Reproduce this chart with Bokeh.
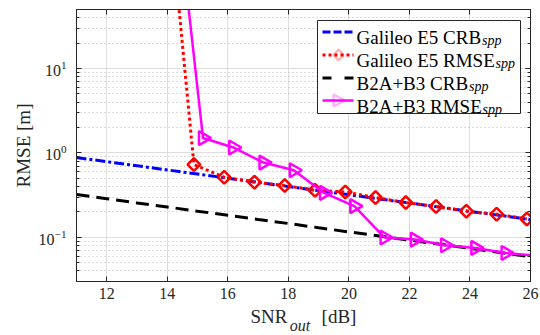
import math
from bokeh.plotting import figure
from bokeh.models import (Range1d, FixedTicker, LinearAxis, LogAxis, Label, CustomJSTickFormatter,
                          BoxAnnotation, PolyAnnotation, Arrow)
from bokeh.embed import file_html
from bokeh.resources import INLINE

# ---- data ----
snr_crb = [11, 12, 13, 14, 15, 16, 17, 18, 19, 20, 21, 22, 23, 24, 25, 26]
gal_crb = [0.882, 0.788, 0.704, 0.629, 0.562, 0.502, 0.448, 0.400, 0.358, 0.320,
           0.285, 0.255, 0.228, 0.203, 0.182, 0.162]
b2a_crb = [0.321, 0.287, 0.256, 0.229, 0.204, 0.183, 0.163, 0.146, 0.130, 0.116,
           0.104, 0.0928, 0.0829, 0.0741, 0.0662, 0.0591]

snr_gal = [13.88, 14.88, 15.88, 16.88, 17.88, 18.88, 19.88, 20.88, 21.88, 22.88, 23.88, 24.88, 25.88]
gal_rmse = [4000, 0.729, 0.515, 0.450, 0.411, 0.361, 0.345, 0.296, 0.258, 0.232, 0.204, 0.188, 0.165]

snr_b2a = [14.18, 15.18, 16.18, 17.18, 18.18, 19.18, 20.18, 21.18, 22.18, 23.18, 24.18, 25.18, 26.18]
b2a_rmse = [2500, 1.50, 1.16, 0.769, 0.624, 0.336, 0.234, 0.0995, 0.0942, 0.0806, 0.0749, 0.0653, 0.0606]

x_ticks = [12, 14, 16, 18, 20, 22, 24, 26]
y_ticks = [0.1, 1, 10]
y_minor = [0.03, 0.04, 0.05, 0.06, 0.07, 0.08, 0.09,
           0.2, 0.3, 0.4, 0.5, 0.6, 0.7, 0.8, 0.9,
           2, 3, 4, 5, 6, 7, 8, 9, 20, 30, 40, 50]

legend_labels = ["Galileo E5 CRB", "Galileo E5 RMSE", "B2A+B3 CRB", "B2A+B3 RMSE"]
legend_sub = "spp"
x_title_main = ["SNR", "[dB]"]
x_title_sub = ["out"]
y_title = "RMSE [m]"

AX = "#262626"
FONT = "Liberation Serif"
BLUE, RED, BLACK, MAG = "#0000ff", "#ff0000", "#000000", "#ff00ff"

FL, FB = 76, 281  # frame left / bottom in canvas px


def sx(cx):
    return cx - FL


def sy(cy):
    return FB - cy


def px_to_x(cx):
    # canvas x pixel -> x data value (for title text placement on helper axes)
    return 11 + (cx - FL) * 15 / 454


p = figure(width=540, height=335, output_backend="svg", toolbar_location=None,
           y_axis_type="log",
           x_range=Range1d(11, 26), y_range=Range1d(0.03, 50),
           min_border_left=76, min_border_right=10, min_border_top=9, min_border_bottom=54,
           frame_width=454, frame_height=272)
p.background_fill_color = "white"
p.border_fill_color = "white"
p.outline_line_color = AX
p.outline_line_width = 1

# ---- axes ----
xa = p.xaxis[0]
ya = p.yaxis[0]
xa.ticker = FixedTicker(ticks=x_ticks)
ya.ticker = FixedTicker(ticks=y_ticks, minor_ticks=y_minor)
for ax in (xa, ya):
    ax.axis_line_color = AX
    ax.major_tick_line_color = AX
    ax.minor_tick_line_color = AX
    ax.major_tick_in = 5
    ax.major_tick_out = 0
    ax.major_label_text_font = FONT
    ax.major_label_text_font_size = "16px"
    ax.major_label_text_color = AX
xa.minor_tick_in = 0
xa.minor_tick_out = 0
ya.minor_tick_in = 3
ya.minor_tick_out = 0
xa.major_label_standoff = 6
ya.major_label_standoff = 10
ya.axis_label = y_title
ya.axis_label_text_font = FONT
ya.axis_label_text_font_size = "19px"
ya.axis_label_text_font_style = "normal"
ya.axis_label_text_color = AX
ya.axis_label_standoff = 2

top = LinearAxis(ticker=FixedTicker(ticks=x_ticks), formatter=CustomJSTickFormatter(code="return ''"),
                 major_label_standoff=0, axis_line_color=AX, major_tick_line_color=AX,
                 major_tick_in=5, major_tick_out=0, minor_tick_in=0, minor_tick_out=0)
right = LogAxis(ticker=FixedTicker(ticks=y_ticks, minor_ticks=y_minor),
                formatter=CustomJSTickFormatter(code="return ''"),
                major_label_standoff=0, axis_line_color=AX, major_tick_line_color=AX,
                minor_tick_line_color=AX, major_tick_in=5, major_tick_out=0,
                minor_tick_in=3, minor_tick_out=0)
p.add_layout(top, "above")
p.add_layout(right, "right")

# x title: "SNR" + "[dB]" and italic subscript "out" as text of helper axes below the main one
t_main = LinearAxis(ticker=FixedTicker(ticks=[px_to_x(268.5), px_to_x(338.5)]),
                    formatter=CustomJSTickFormatter(args=dict(labels=x_title_main), code="return labels[index]"),
                    axis_line_color=None, major_tick_line_color=None, minor_tick_line_color=None,
                    major_tick_in=0, major_tick_out=0, minor_tick_in=0, minor_tick_out=0,
                    major_label_standoff=4, major_label_text_font=FONT, major_label_text_font_size="19px",
                    major_label_text_color=AX)
t_sub = LinearAxis(ticker=FixedTicker(ticks=[px_to_x(299.5)]),
                   formatter=CustomJSTickFormatter(args=dict(labels=x_title_sub), code="return labels[index]"),
                   axis_line_color=None, major_tick_line_color=None, minor_tick_line_color=None,
                   major_tick_in=0, major_tick_out=0, minor_tick_in=0, minor_tick_out=0,
                   major_label_standoff=-13, major_label_text_font=FONT, major_label_text_font_size="16px",
                   major_label_text_font_style="italic", major_label_text_color=AX)
p.add_layout(t_main, "below")
p.add_layout(t_sub, "below")

# ---- grids ----
p.xgrid.grid_line_color = "#dedede"
p.xgrid.ticker = FixedTicker(ticks=x_ticks)
p.ygrid.grid_line_color = "#dedede"
p.ygrid.minor_grid_line_color = "#b8b8b8"
p.ygrid.minor_grid_line_dash = "1 3"

# ---- series ----
p.line(snr_crb, gal_crb, line_color=BLUE, line_width=3, line_dash="10 3 3 3")
p.line(snr_gal, gal_rmse, line_color=RED, line_width=3, line_dash="3 3")
p.scatter(snr_gal, gal_rmse, marker="square", angle=math.pi / 4, size=9, line_color=RED,
          line_width=2.5, fill_alpha=0)
p.line(snr_crb, b2a_crb, line_color=BLACK, line_width=3, line_dash="13 7")
p.line(snr_b2a, b2a_rmse, line_color=MAG, line_width=2.5)
p.scatter(snr_b2a, b2a_rmse, marker="triangle", angle=-math.pi / 2, size=14, line_color=MAG,
          line_width=2.5, fill_alpha=0)

# ---- legend (drawn by hand to get diamond / right-pointing triangle keys and subscripts) ----
p.add_layout(BoxAnnotation(left=sx(317), right=sx(520), top=sy(20), bottom=sy(113),
                           left_units="screen", right_units="screen", top_units="screen",
                           bottom_units="screen", fill_color="white", fill_alpha=1,
                           line_color=AX, line_width=1, line_alpha=1))
row_c = [31.5, 54.5, 77.5, 100]
row_b = [37, 60, 83, 106]
styles = [dict(line_color=BLUE, line_width=3, line_dash="8 3"),
          dict(line_color=RED, line_width=3, line_dash="3 3"),
          dict(line_color=BLACK, line_width=3, line_dash="9 13"),
          dict(line_color=MAG, line_width=2.5)]
for yc, st in zip(row_c, styles):
    p.add_layout(Arrow(end=None, x_start=sx(322), x_end=sx(353), y_start=sy(yc), y_end=sy(yc),
                       start_units="screen", end_units="screen", **st))
cx, cy = 338, row_c[1]
p.add_layout(PolyAnnotation(xs=[sx(cx), sx(cx + 5), sx(cx), sx(cx - 5)],
                            ys=[sy(cy - 5.5), sy(cy), sy(cy + 5.5), sy(cy)],
                            xs_units="screen", ys_units="screen", fill_alpha=0,
                            line_color=RED, line_width=2.5))
cx, cy = 338, row_c[3]
p.add_layout(PolyAnnotation(xs=[sx(cx - 5), sx(cx + 6.5), sx(cx - 5)],
                            ys=[sy(cy - 6), sy(cy), sy(cy + 6)],
                            xs_units="screen", ys_units="screen", fill_alpha=0,
                            line_color=MAG, line_width=2.5))

sub_x = [481.5, 495, 468.5, 482]
for txt, yb, xs_ in zip(legend_labels, row_b, sub_x):
    p.add_layout(Label(x=sx(356), y=sy(yb), x_units="screen", y_units="screen", text=txt,
                       text_font=FONT, text_font_size="19px", text_color="black",
                       text_baseline="alphabetic"))
    p.add_layout(Label(x=sx(xs_), y=sy(yb + 3), x_units="screen", y_units="screen", text=legend_sub,
                       text_font=FONT, text_font_size="14px", text_font_style="italic",
                       text_color="black", text_baseline="alphabetic"))

open("out.html", "w").write(file_html(p, INLINE))
